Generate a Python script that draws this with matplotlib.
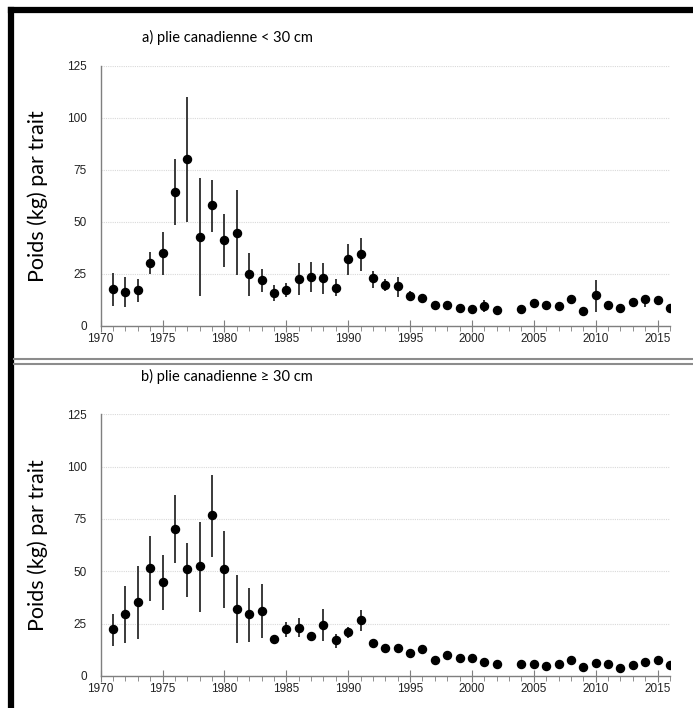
import matplotlib.pyplot as plt
from matplotlib.lines import Line2D
from matplotlib.ticker import MultipleLocator
import numpy as np

# years (2003 has no survey value)
years = [1971, 1972, 1973, 1974, 1975, 1976, 1977, 1978, 1979, 1980,
         1981, 1982, 1983, 1984, 1985, 1986, 1987, 1988, 1989, 1990,
         1991, 1992, 1993, 1994, 1995, 1996, 1997, 1998, 1999, 2000,
         2001, 2002, 2004, 2005, 2006, 2007, 2008, 2009, 2010, 2011,
         2012, 2013, 2014, 2015, 2016]

# a) plie canadienne < 30 cm
small_mean = [17.5, 16.3, 17.1, 30.3, 34.8, 64.4, 80.3, 42.8, 57.9, 41.0,
              44.6, 24.7, 22.0, 15.7, 17.1, 22.4, 23.6, 22.8, 18.3, 32.0,
              34.5, 22.8, 19.7, 19.1, 14.4, 13.3, 10.1, 10.1, 8.5, 8.2,
              9.6, 7.5, 7.9, 10.7, 10.1, 9.6, 12.7, 7.1, 14.6, 10.1,
              8.5, 11.2, 12.7, 12.3, 8.7]
small_low = [9.5, 8.8, 11.4, 24.8, 24.2, 48.4, 50.0, 14.3, 45.2, 28.4,
             24.2, 14.3, 16.3, 12.0, 13.9, 14.7, 16.2, 15.2, 14.3, 24.4,
             26.3, 18.1, 16.8, 13.9, 12.3, 11.0, 9.0, 9.0, 7.6, 7.2,
             6.4, 6.6, 7.0, 9.6, 9.0, 8.6, 11.2, 6.2, 6.7, 8.4,
             7.6, 9.8, 9.1, 10.6, 7.8]
small_high = [25.2, 23.6, 22.3, 35.3, 45.2, 80.1, 110.0, 70.8, 70.0, 53.5,
              65.0, 34.8, 27.2, 19.6, 20.7, 30.0, 30.8, 30.3, 22.6, 39.3,
              42.3, 26.4, 22.3, 23.6, 16.8, 15.2, 11.2, 11.2, 9.4, 9.2,
              12.3, 8.4, 8.8, 11.8, 11.2, 10.6, 14.2, 8.0, 22.0, 11.6,
              9.4, 12.6, 14.7, 14.0, 9.6]

# b) plie canadienne >= 30 cm
large_mean = [22.6, 29.6, 35.4, 51.6, 44.7, 70.4, 51.1, 52.7, 77.1, 51.1,
              32.2, 29.5, 31.2, 17.8, 22.6, 22.8, 19.1, 24.5, 17.4, 21.0,
              26.8, 15.6, 13.4, 13.4, 11.0, 13.1, 7.6, 10.2, 8.6, 8.6,
              6.7, 5.6, 5.6, 5.9, 4.9, 5.9, 7.8, 4.5, 6.2, 5.6,
              3.8, 5.1, 6.7, 7.6, 5.1]
large_low = [14.5, 15.6, 17.8, 36.0, 31.5, 54.1, 37.9, 30.7, 57.0, 32.3,
             15.6, 16.4, 18.3, 15.6, 18.8, 18.5, 16.9, 16.9, 13.2, 18.0,
             21.7, 14.4, 12.2, 12.2, 9.9, 11.8, 6.8, 9.2, 7.8, 7.8,
             5.9, 4.9, 4.9, 5.2, 4.2, 5.2, 7.0, 3.9, 4.3, 4.9,
             3.2, 4.4, 5.9, 6.8, 4.4]
large_high = [29.6, 43.0, 52.7, 67.0, 58.0, 86.5, 63.4, 73.6, 96.2, 69.4,
              48.4, 41.9, 43.8, 19.6, 26.0, 27.9, 21.2, 31.8, 20.1, 23.6,
              31.5, 16.8, 14.6, 14.6, 12.1, 14.4, 8.4, 11.2, 9.4, 9.4,
              7.5, 6.3, 6.3, 6.6, 5.6, 6.6, 8.6, 5.1, 8.2, 6.3,
              4.4, 5.8, 7.5, 8.4, 5.8]

titles = ["a) plie canadienne < 30 cm", "b) plie canadienne \u2265 30 cm"]
ylabel = "Poids (kg) par trait"

fig = plt.figure(figsize=(6.93, 7.08), dpi=100)

panels = [
    ([0.1453, 0.540, 0.8215, 0.3672], small_mean, small_low, small_high, 0.9477),
    ([0.1453, 0.0452, 0.8215, 0.3696], large_mean, large_low, large_high, 0.4689),
]

spine_col = "#7f7f7f"
for i, (rect, mean, low, high, title_y) in enumerate(panels):
    ax = fig.add_axes(rect)
    mean = np.array(mean)
    yerr = [mean - np.array(low), np.array(high) - mean]
    ax.errorbar(years, mean, yerr=yerr, fmt="o", color="black", ms=5.8,
                ecolor="#3a3a3a", elinewidth=1.4, capsize=0, zorder=3)
    ax.set_xlim(1970, 2016)
    ax.set_ylim(0, 125)
    ax.set_yticks([0, 25, 50, 75, 100, 125])
    ax.xaxis.set_major_locator(MultipleLocator(5))
    ax.xaxis.set_minor_locator(MultipleLocator(1))
    ax.grid(axis="y", color="#d9d9d9", linestyle=(0, (1, 1)), linewidth=0.8, zorder=0)
    for s in ["top", "right"]:
        ax.spines[s].set_visible(False)
    for s in ["left", "bottom"]:
        ax.spines[s].set_color(spine_col)
        ax.spines[s].set_linewidth(1.0)
    ax.tick_params(axis="y", length=0, labelsize=8.5, pad=10, labelcolor="#222222")
    ax.tick_params(axis="x", which="major", direction="inout", length=8,
                   color=spine_col, labelsize=8.5, labelcolor="#222222", pad=1)
    ax.tick_params(axis="x", which="minor", direction="out", length=3.5,
                   color=spine_col)
    for lab in ax.get_xticklabels() + ax.get_yticklabels():
        lab.set_fontfamily("Liberation Sans")
    ax.set_ylabel(ylabel, fontsize=15.5, family="Lato")
    ax.yaxis.set_label_coords(-0.092, 0.5)
    # panel title
    fig.text(0.328, title_y, titles[i], fontsize=10.5, family="Lato",
             ha="center", va="center")

# frame lines around the panels
fig.add_artist(Line2D([0.0159, 0.0159], [0.0, 0.9855], color="black", lw=4.5,
                      transform=fig.transFigure, solid_capstyle="projecting"))
fig.add_artist(Line2D([0.0159, 1.0], [0.9855, 0.9855], color="black", lw=4.5,
                      transform=fig.transFigure, solid_capstyle="projecting"))
fig.add_artist(Line2D([0.02, 1.0], [0.4930, 0.4930], color="#8c8c8c", lw=1.5,
                      transform=fig.transFigure))
fig.add_artist(Line2D([0.02, 1.0], [0.4860, 0.4860], color="#8c8c8c", lw=1.5,
                      transform=fig.transFigure))

fig.savefig("out.png", dpi=100)
